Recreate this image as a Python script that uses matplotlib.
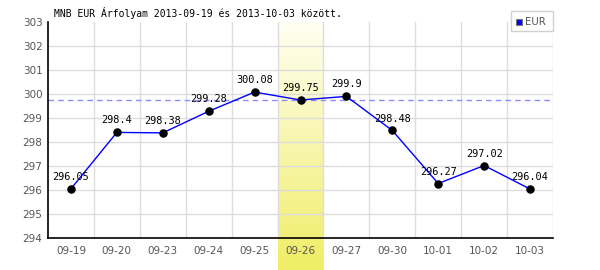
import numpy as np
import matplotlib
matplotlib.use("Agg")
import matplotlib.pyplot as plt
from matplotlib.patches import Rectangle

dates = ["09-19", "09-20", "09-23", "09-24", "09-25", "09-26", "09-27", "09-30", "10-01", "10-02", "10-03"]
values = [296.05, 298.4, 298.38, 299.28, 300.08, 299.75, 299.9, 298.48, 296.27, 297.02, 296.04]
labels = ["296.05", "298.4", "298.38", "299.28", "300.08", "299.75", "299.9", "298.48", "296.27", "297.02", "296.04"]
highlight_idx = 5
ref_value = 299.75
y_ticks = list(range(294, 304))
title = "MNB EUR Árfolyam 2013-09-19 és 2013-10-03 között."
series_name = "EUR"

W, H = 600, 270
fig = plt.figure(figsize=(W / 100, H / 100), dpi=100)
fig.patch.set_facecolor("white")
L, R, T, B = 48, 553, 22, 238
ax = fig.add_axes([L / W, 1 - B / H, (R - L) / W, (B - T) / H])
ax.set_facecolor("none")

n = len(dates)
x = np.arange(n)

# highlight band (gradient) extending below axis to figure bottom
units_per_px = 9 / (B - T)
ybot = 294 - (H - B) * units_per_px
grad = np.linspace(0, 1, 256).reshape(-1, 1)
top_c = np.array([1.0, 1.0, 0.95])
bot_c = np.array([0.94, 0.93, 0.40])
img = top_c[None, None, :] * (1 - grad[:, :, None]) + bot_c[None, None, :] * grad[:, :, None]
ax.imshow(img, extent=(highlight_idx - 0.5, highlight_idx + 0.5, ybot, 303),
          aspect="auto", origin="upper", clip_on=False, zorder=0)
ax.set_xlim(-0.5, n - 0.5)
ax.set_ylim(294, 303)

# grid
gc = "#dddddd"
for yv in y_ticks[1:-1]:
    ax.axhline(yv, color=gc, lw=1, zorder=1)
for i in range(1, n + 1):
    ax.axvline(i - 0.5, color=gc, lw=1, zorder=1)

ax.axhline(ref_value, color="#8c8cff", lw=1, ls=(0, (4, 3)), zorder=2)

ax.plot(x, values, color="#0000ff", lw=1, zorder=3)
ax.scatter(x, values, s=26, color="black", zorder=4)
for xi, v, lab in zip(x, values, labels):
    ax.annotate(lab, (xi, v), xytext=(0, 5), textcoords="offset points",
                ha="center", va="bottom", fontsize=7.4, family="DejaVu Sans Mono",
                color="black", zorder=5)

for s in ["top", "right"]:
    ax.spines[s].set_visible(False)
ax.spines["left"].set_color("black")
ax.spines["bottom"].set_color("black")
ax.spines["left"].set_linewidth(1.2)
ax.spines["bottom"].set_linewidth(1.2)
ax.spines["left"].set_zorder(6)
ax.spines["bottom"].set_zorder(6)

ax.set_yticks(y_ticks)
ax.set_yticklabels([str(t) for t in y_ticks])
ax.set_xticks(x)
ax.set_xticklabels(dates)
ax.tick_params(axis="both", length=0, labelsize=7.5, labelcolor="#555555")
ax.tick_params(axis="x", pad=6)
ax.tick_params(axis="y", pad=4)

fig.text(54 / W, 1 - 17 / H, title, fontsize=7.0, family="DejaVu Sans Mono",
         color="black", ha="left", va="baseline")

# legend box
lx0, ly0, lx1, ly1 = 511, 11, 553, 31
fig.patches.append(Rectangle((lx0 / W, 1 - ly1 / H), (lx1 - lx0) / W, (ly1 - ly0) / H,
                             transform=fig.transFigure, facecolor="white",
                             edgecolor="#d0d0d0", lw=1, zorder=10))
fig.patches.append(Rectangle((516 / W, 1 - 25 / H), 6 / W, 6 / H,
                             transform=fig.transFigure, facecolor="#0000ff",
                             edgecolor="#777777", lw=0.8, zorder=11))
fig.text(525 / W, 1 - 22 / H, series_name, fontsize=7.3, color="#555555",
         ha="left", va="center", zorder=12)

fig.savefig("out.png", dpi=100)
